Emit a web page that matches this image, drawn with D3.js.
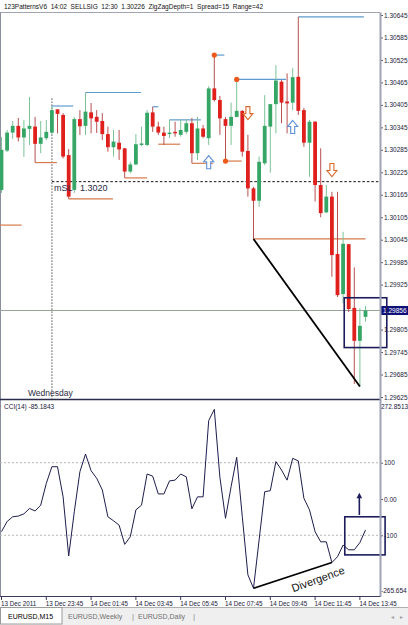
<!DOCTYPE html>
<html><head><meta charset="utf-8">
<script src="https://cdn.jsdelivr.net/npm/d3@7"></script>
<style>body{margin:0;background:#fff}svg{display:block}text{font-family:"Liberation Sans",Arial,sans-serif}</style>
</head><body><svg id="c" width="408" height="625"></svg>
<script>
// ---------- DATA ----------
const times = ["13.12 21:45","13.12 22:00","13.12 22:15","13.12 22:30","13.12 22:45","13.12 23:00","13.12 23:15","13.12 23:30","13.12 23:45",
"14.12 00:00","14.12 00:15","14.12 00:30","14.12 00:45","14.12 01:00","14.12 01:15","14.12 01:30","14.12 01:45",
"14.12 02:00","14.12 02:15","14.12 02:30","14.12 02:45","14.12 03:00","14.12 03:15","14.12 03:30","14.12 03:45",
"14.12 04:00","14.12 04:15","14.12 04:30","14.12 04:45","14.12 05:00","14.12 05:15","14.12 05:30","14.12 05:45",
"14.12 06:00","14.12 06:15","14.12 06:30","14.12 06:45","14.12 07:00","14.12 07:15","14.12 07:30","14.12 07:45",
"14.12 08:00","14.12 08:15","14.12 08:30","14.12 08:45","14.12 09:00","14.12 09:15","14.12 09:30","14.12 09:45",
"14.12 10:00","14.12 10:15","14.12 10:30","14.12 10:45","14.12 11:00","14.12 11:15","14.12 11:30","14.12 11:45",
"14.12 12:00","14.12 12:15","14.12 12:30","14.12 12:45","14.12 13:00","14.12 13:15","14.12 13:30","14.12 13:45","14.12 14:00"];
const open  = [1.30178,1.30283,1.30331,1.30349,1.30318,1.30341,1.30347,1.30301,1.30316,1.30331,1.30393,1.30378,1.30271,1.30178,1.30367,1.30349,1.30385,1.30373,1.30362,1.30327,1.30292,1.30304,1.30289,1.30227,1.30246,1.30298,1.30298,1.30385,1.30347,1.30331,1.30327,1.30333,1.30325,1.30333,1.30356,1.30276,1.30342,1.30316,1.30449,1.30418,1.30367,1.30349,1.30373,1.30389,1.30282,1.30182,1.30149,1.30249,1.30347,1.30407,1.30467,1.30414,1.30411,1.30480,1.30391,1.30304,1.30360,1.30191,1.30118,1.30160,1.30007,1.29900,1.30033,1.29863,1.29775,1.29839];
const high  = [1.30319,1.30338,1.30362,1.30370,1.30365,1.30426,1.30373,1.30362,1.30365,1.30402,1.30394,1.30383,1.30287,1.30373,1.30391,1.30438,1.30410,1.30391,1.30383,1.30347,1.30338,1.30338,1.30290,1.30253,1.30327,1.30347,1.30391,1.30400,1.30360,1.30347,1.30365,1.30360,1.30367,1.30367,1.30370,1.30373,1.30351,1.30455,1.30538,1.30429,1.30373,1.30411,1.30473,1.30391,1.30325,1.30186,1.30267,1.30431,1.30407,1.30511,1.30471,1.30489,1.30503,1.30640,1.30397,1.30365,1.30362,1.30289,1.30191,1.30173,1.30173,1.30066,1.30034,1.29971,1.29862,1.29868];
const low   = [1.30170,1.30279,1.30314,1.30307,1.30266,1.30298,1.30251,1.30276,1.30311,1.30325,1.30329,1.30262,1.30154,1.30170,1.30325,1.30325,1.30329,1.30330,1.30311,1.30280,1.30267,1.30258,1.30210,1.30222,1.30244,1.30295,1.30295,1.30333,1.30325,1.30298,1.30317,1.30320,1.30320,1.30327,1.30249,1.30258,1.30316,1.30298,1.30414,1.30325,1.30255,1.30298,1.30372,1.30267,1.30160,1.30047,1.30133,1.30244,1.30224,1.30329,1.30356,1.30329,1.30391,1.30378,1.30293,1.30213,1.30147,1.30105,1.30116,1.29946,1.29892,1.29875,1.29852,1.29660,1.29653,1.29826];
const close = [1.30285,1.30331,1.30349,1.30318,1.30342,1.30349,1.30301,1.30318,1.30333,1.30391,1.30381,1.30267,1.30160,1.30367,1.30348,1.30387,1.30369,1.30360,1.30327,1.30292,1.30307,1.30286,1.30227,1.30246,1.30300,1.30302,1.30384,1.30347,1.30331,1.30322,1.30331,1.30329,1.30338,1.30356,1.30276,1.30342,1.30320,1.30449,1.30418,1.30369,1.30349,1.30373,1.30389,1.30280,1.30182,1.30149,1.30253,1.30349,1.30407,1.30470,1.30411,1.30409,1.30479,1.30389,1.30304,1.30360,1.30191,1.30116,1.30160,1.30004,1.29897,1.30034,1.29860,1.29775,1.29815,1.29856];
const cci   = [-90,-62,-49,-47,-41,-26,-33,-17,43,89,89,6,-157,-35,75,124,78,57,25,-49,-60,-72,-125,-104,-30,-17,69,63,14,14,50,52,69,61,-27,6,6,216,247,60,-53,34,115,-49,-209,-246,-113,20,23,103,80,52,112,105,2,-30,-90,-118,-118,-175,-159,-127,-140,-140,-120,-85.1843];

const priceTicks = [1.30645,1.30585,1.30525,1.30465,1.30405,1.30345,1.30285,1.30225,1.30165,1.30105,1.30045,1.29985,1.29925,1.29865,1.29805,1.29745,1.29685,1.29625];
const cciTicks = [100, 0, -100];
const cciTickLabels = ["100", "0.00", "-100"];
const cciMax = 272.8513, cciMin = -265.654, cciLast = -85.1843;
const timeTickBars = [0, 8, 16, 24, 32, 40, 48, 56, 64];
const timeTickLabels = ["13 Dec 2011","13 Dec 23:45","14 Dec 01:45","14 Dec 03:45","14 Dec 05:45","14 Dec 07:45","14 Dec 09:45","14 Dec 11:45","14 Dec 13:45"];

const resStart = [9, 15, 27, 30, 38, 42, 53];
const resEnd   = [12.8, 24.9, 28, 35.6, 39.8, 50.8, 64.7];
const resPrice = [1.30402, 1.30438, 1.30400, 1.30365, 1.30538, 1.30473, 1.30640];
const supStart = [-0.3, 6, 12, 22, 28, 34, 40, 45];
const supEnd   = [3.6, 9.9, 19.9, 26, 31.9, 37.8, 42.9, 65];
const supPrice = [1.30084, 1.30251, 1.30154, 1.30210, 1.30300, 1.30249, 1.30255, 1.30047];
const pivotIdx = [38, 40, 42];
const pivotPrice = [1.30538, 1.30255, 1.30473];
const upArrowIdx = [37, 52], upArrowPrice = [1.30252, 1.30346];
const downArrowIdx = [44, 59], downArrowPrice = [1.30383, 1.30231];
const lastPrice = 1.29856, slPrice = 1.3020, sepIdx = 9, sepTopPrice = 1.30422;
const trendIdx = [45, 64], trendPrice = [1.30047, 1.29653];
const divIdx = [45, 59], divCci = [-246, -175];
const boxIdx = [61.2, 68.8], boxPrice = [1.29890, 1.29757];
const cciBoxIdx = [61.3, 68.5], cciBoxVal = [-49, -154];
const cciArrowIdx = 63.9, cciArrowVal = [-44, 17];
const header = "123PatternsV6  14:02  SELLSIG  12:30  1.30226  ZigZagDepth=1  Spread=15  Range=42";
const tabs = ["EURUSD,M15", "EURUSD,Weekly", "EURUSD,Daily"];

// ---------- SCALES ----------
const svg = d3.select("#c");
const xP = d3.scalePoint().domain(times).range([1.5, 365.5]);
const xI = d3.scaleLinear().domain([0, times.length - 1]).range([1.5, 365.5]);
const yP = d3.scaleLinear().domain([1.29625, 1.30645]).range([397, 15]);
const yC = d3.scaleLinear().domain([cciMin, cciMax]).range([595.4, 400]);
const AX = 380;
const navy = "#1c1c5c", txt = "#1a1a3a";

const defs = svg.append("defs");
defs.append("clipPath").attr("id", "cm").append("rect").attr("x", 0).attr("y", 13).attr("width", AX).attr("height", 386);
defs.append("clipPath").attr("id", "cc").append("rect").attr("x", 0).attr("y", 401).attr("width", AX).attr("height", 195);

// header
svg.append("text").attr("x", 4).attr("y", 9).attr("font-size", 7).attr("fill", "#111")
  .attr("textLength", 259).attr("lengthAdjust", "spacingAndGlyphs").style("white-space", "pre").text(header);

// frames
svg.append("line").attr("x1", 0).attr("x2", AX).attr("y1", 12.5).attr("y2", 12.5).attr("stroke", "#a0a4b4");
svg.append("line").attr("x1", 0.5).attr("x2", 0.5).attr("y1", 12.5).attr("y2", 597).attr("stroke", "#8a8d9c");

// ---------- MAIN PANEL ----------
const gm = svg.append("g").attr("clip-path", "url(#cm)");
gm.append("line").attr("x1", 0).attr("x2", AX).attr("y1", yP(lastPrice)).attr("y2", yP(lastPrice)).attr("stroke", "#9aa39a").attr("stroke-width", 1);
gm.append("line").attr("x1", xI(sepIdx)).attr("x2", xI(sepIdx)).attr("y1", yP(sepTopPrice)).attr("y2", 399)
  .attr("stroke", "#6a6a6a").attr("stroke-width", 1.4).attr("stroke-dasharray", "1.2,1.8");
gm.append("line").attr("x1", xI(sepIdx)).attr("x2", AX).attr("y1", yP(slPrice)).attr("y2", yP(slPrice))
  .attr("stroke", "#111").attr("stroke-width", 1).attr("stroke-dasharray", "2.5,2");

gm.selectAll(".res").data(resStart).join("line")
  .attr("x1", (d) => xI(d)).attr("x2", (d, i) => xI(resEnd[i]))
  .attr("y1", (d, i) => yP(resPrice[i])).attr("y2", (d, i) => yP(resPrice[i]))
  .attr("stroke", "#5d9bcf").attr("stroke-width", 1.2);
gm.selectAll(".sup").data(supStart).join("line")
  .attr("x1", (d) => xI(d)).attr("x2", (d, i) => xI(supEnd[i]))
  .attr("y1", (d, i) => yP(supPrice[i])).attr("y2", (d, i) => yP(supPrice[i]))
  .attr("stroke", "#d47a4a").attr("stroke-width", 1.2);

const bars = times.map((t, i) => ({ t, o: open[i], h: high[i], l: low[i], c: close[i] }));
gm.selectAll(".wick").data(bars).join("line")
  .attr("x1", (d) => xP(d.t)).attr("x2", (d) => xP(d.t))
  .attr("y1", (d) => yP(d.h)).attr("y2", (d) => yP(d.l))
  .attr("stroke", (d) => (d.c >= d.o ? "#7cc297" : "#b85050")).attr("stroke-width", 1);
gm.selectAll(".body").data(bars).join("rect")
  .attr("x", (d) => xP(d.t) - 1.9).attr("width", 3.8)
  .attr("y", (d) => yP(Math.max(d.o, d.c)))
  .attr("height", (d) => Math.max(1.2, Math.abs(yP(d.o) - yP(d.c))))
  .attr("fill", (d) => (d.c >= d.o ? "#35a665" : "#e0201c"));

gm.selectAll(".piv").data(pivotIdx).join("circle")
  .attr("cx", (d) => xI(d)).attr("cy", (d, i) => yP(pivotPrice[i])).attr("r", 2.6).attr("fill", "#ef5a1c");

const upPts = [[0,-6.5],[5,-0.5],[2,-0.5],[2,6.5],[-2,6.5],[-2,-0.5],[-5,-0.5]];
gm.selectAll(".up").data(upArrowIdx).join("polygon")
  .attr("points", (d, i) => upPts.map((p) => [xI(d) + p[0], yP(upArrowPrice[i]) + p[1]].join(",")).join(" "))
  .attr("fill", "#fff").attr("stroke", "#5b8fd6").attr("stroke-width", 1.1);
gm.selectAll(".dn").data(downArrowIdx).join("polygon")
  .attr("points", (d, i) => upPts.map((p) => [xI(d) + p[0], yP(downArrowPrice[i]) - p[1]].join(",")).join(" "))
  .attr("fill", "#fff").attr("stroke", "#d96a2b").attr("stroke-width", 1.1);

gm.append("line").attr("x1", xI(trendIdx[0])).attr("y1", yP(trendPrice[0]))
  .attr("x2", xI(trendIdx[1])).attr("y2", yP(trendPrice[1])).attr("stroke", "#000").attr("stroke-width", 1.8);

gm.append("text").attr("x", 54).attr("y", yP(slPrice) + 9).attr("font-size", 9).attr("fill", "#2a2a44").text("mSL");
gm.append("text").attr("x", 80).attr("y", yP(slPrice) + 9).attr("font-size", 9).attr("fill", "#2a2a44").text(slPrice.toFixed(4));
svg.append("text").attr("x", 28).attr("y", 396).attr("font-size", 8.5).attr("fill", "#2a2a44").text("Wednesday");

// separator
svg.append("line").attr("x1", 0).attr("x2", AX).attr("y1", 399.5).attr("y2", 399.5).attr("stroke", "#2a2a4a").attr("stroke-width", 1.5);

// price axis (the tick nearest the last price is hidden under its label, as in MT4)
const fmt5 = d3.format(".5f");
const pa = svg.append("g").attr("transform", `translate(${AX},0)`)
  .call(d3.axisRight(yP).tickValues(priceTicks)
    .tickFormat((d) => (Math.abs(yP(d) - yP(lastPrice)) < 6 ? "" : fmt5(d))).tickSize(3).tickPadding(1));
pa.select(".domain").remove();
pa.selectAll("line").attr("stroke", "#555");
pa.selectAll("text").attr("font-size", 6.5).attr("fill", txt).attr("font-family", "Liberation Sans");

// last price label
svg.append("rect").attr("x", 381).attr("y", yP(lastPrice) - 4.5).attr("width", 27).attr("height", 9).attr("fill", "#10107a");
svg.append("text").attr("x", 383).attr("y", yP(lastPrice) + 2.3).attr("font-size", 6.5).attr("fill", "#fff").text(lastPrice.toFixed(5));

// main box
svg.append("rect").attr("x", xI(boxIdx[0])).attr("y", yP(boxPrice[0]))
  .attr("width", xI(boxIdx[1]) - xI(boxIdx[0])).attr("height", yP(boxPrice[1]) - yP(boxPrice[0]))
  .attr("fill", "none").attr("stroke", navy).attr("stroke-width", 1.6);

// ---------- CCI PANEL ----------
const gc = svg.append("g").attr("clip-path", "url(#cc)");
gc.selectAll(".lvl").data([100, -100]).join("line")
  .attr("x1", 0).attr("x2", AX).attr("y1", (d) => yC(d)).attr("y2", (d) => yC(d))
  .attr("stroke", "#b8b8b8").attr("stroke-dasharray", "2,2");
gc.append("path").datum(cci)
  .attr("d", d3.line().x((d, i) => xP(times[i])).y((d) => yC(d)))
  .attr("fill", "none").attr("stroke", "#1d1d4d").attr("stroke-width", 1);
gc.append("line").attr("x1", xI(divIdx[0])).attr("y1", yC(divCci[0])).attr("x2", xI(divIdx[1])).attr("y2", yC(divCci[1]))
  .attr("stroke", "#000").attr("stroke-width", 1.8);
svg.append("text").attr("transform", `translate(318,579) rotate(-20)`).attr("text-anchor", "middle")
  .attr("dominant-baseline", "central").attr("font-size", 11).attr("fill", "#111").text("Divergence");

svg.append("text").attr("x", 4).attr("y", 409).attr("font-size", 6.5).attr("fill", txt).text(`CCI(14) ${cciLast}`);

const ca = svg.append("g").attr("transform", `translate(${AX},0)`)
  .call(d3.axisRight(yC).tickValues(cciTicks).tickFormat((d, i) => cciTickLabels[i]).tickSize(3).tickPadding(1));
ca.select(".domain").remove();
ca.selectAll("line").attr("stroke", "#555");
ca.selectAll("text").attr("font-size", 6.5).attr("fill", txt).attr("font-family", "Liberation Sans");
svg.append("text").attr("x", 381).attr("y", yC(cciMax) + 9).attr("font-size", 6.5).attr("fill", txt).text(cciMax.toFixed(4));
svg.append("text").attr("x", 381).attr("y", yC(cciMin) - 2).attr("font-size", 6.5).attr("fill", txt).text(cciMin.toFixed(3));

svg.append("rect").attr("x", xI(cciBoxIdx[0])).attr("y", yC(cciBoxVal[0]))
  .attr("width", xI(cciBoxIdx[1]) - xI(cciBoxIdx[0])).attr("height", yC(cciBoxVal[1]) - yC(cciBoxVal[0]))
  .attr("fill", "none").attr("stroke", navy).attr("stroke-width", 1.6);
svg.append("line").attr("x1", xI(cciArrowIdx)).attr("x2", xI(cciArrowIdx))
  .attr("y1", yC(cciArrowVal[0])).attr("y2", yC(cciArrowVal[1]) + 4).attr("stroke", navy).attr("stroke-width", 1.6);
svg.append("polygon").attr("points", [[xI(cciArrowIdx), yC(cciArrowVal[1])], [xI(cciArrowIdx) - 2.8, yC(cciArrowVal[1]) + 5.5], [xI(cciArrowIdx) + 2.8, yC(cciArrowVal[1]) + 5.5]].map((p) => p.join(",")).join(" "))
  .attr("fill", navy);

// right axis line
svg.append("line").attr("x1", AX + 0.5).attr("x2", AX + 0.5).attr("y1", 12.5).attr("y2", 597).attr("stroke", "#9da3b5").attr("stroke-width", 2);

// ---------- TIME AXIS ----------
svg.append("line").attr("x1", 0).attr("x2", AX).attr("y1", 596.5).attr("y2", 596.5).attr("stroke", "#3a3a5a").attr("stroke-width", 1);
const ta = svg.append("g");
ta.selectAll("line").data(timeTickBars).join("line")
  .attr("x1", (d) => xP(times[d])).attr("x2", (d) => xP(times[d])).attr("y1", 596.5).attr("y2", 600)
  .attr("stroke", "#3a3a5a");
ta.selectAll("text").data(timeTickBars).join("text")
  .attr("x", (d) => Math.max(1, xP(times[d]) - 0.5)).attr("y", 606).attr("font-size", 6.3).attr("fill", txt)
  .text((d, i) => timeTickLabels[i]);

// ---------- TABS ----------
svg.append("rect").attr("x", 0).attr("y", 607).attr("width", 408).attr("height", 18).attr("fill", "#efefef");
svg.append("line").attr("x1", 0).attr("x2", 408).attr("y1", 607.5).attr("y2", 607.5).attr("stroke", "#b0b0b0");
svg.append("rect").attr("x", 0.5).attr("y", 607.5).attr("width", 61.5).attr("height", 16.5).attr("fill", "#fff").attr("stroke", "#9a9a9a");
const tabX = [8, 68, 138];
svg.selectAll(".tab").data(tabs).join("text")
  .attr("x", (d, i) => tabX[i]).attr("y", 619).attr("font-size", 7)
  .attr("fill", (d, i) => (i === 0 ? "#000" : "#707070")).text((d) => d);
svg.selectAll(".sep").data([132, 193]).join("text").attr("x", (d) => d).attr("y", 619).attr("font-size", 8).attr("fill", "#909090").text("|");
svg.append("text").attr("x", 391).attr("y", 619).attr("font-size", 6).attr("fill", "#a0a0a0").text("◂");
svg.append("text").attr("x", 400).attr("y", 619).attr("font-size", 6).attr("fill", "#a0a0a0").text("▸");
</script></body></html>
